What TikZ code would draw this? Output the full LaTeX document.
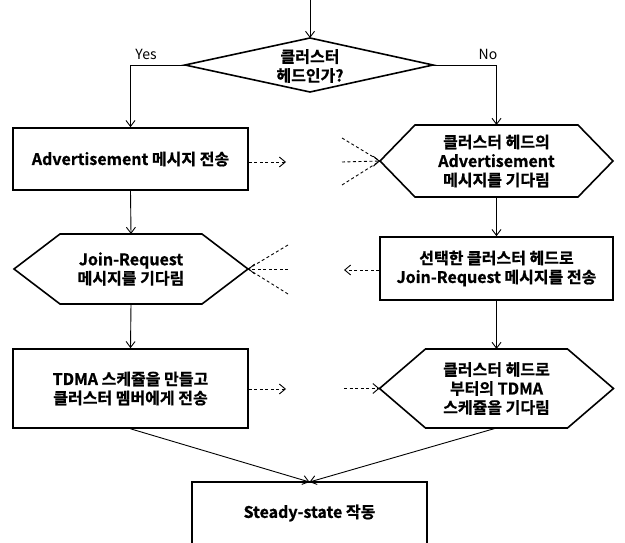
\documentclass[tikz,border=0pt]{standalone}
\usepackage{fontspec}
\setmainfont{Noto Sans CJK KR}[BoldFont={Noto Sans CJK KR Bold},BoldFeatures={FakeBold=0.8}]
\usetikzlibrary{arrows.meta}
\tikzset{
  box/.style={draw=black, line width=1.6pt},
  txt/.style={font=\bfseries\fontsize{16}{19}\selectfont, align=center, inner sep=0pt},
  rectbox/.style={box, txt, minimum width=235pt, minimum height=#1},
  conn/.style={draw=black, line width=0.9pt},
  arr/.style={conn, -{Straight Barb[length=6pt,width=9pt,line width=0.9pt]}},
  darr/.style={conn, dash pattern=on 3pt off 2.5pt, -{Straight Barb[length=6pt,width=10pt,line width=0.9pt]}},
  dline/.style={conn, dash pattern=on 3pt off 2.5pt},
  lbl/.style={font=\fontsize{14}{16}\selectfont, inner sep=0pt}
}
\newcommand\hexa[7]{% name cx cy hw hh off text
  \node[txt] (#1) at (#2,#3) {#7};
  \draw[box] (#2-#4,#3) -- (#2-#4+#6,#3-#5) -- (#2+#4-#6,#3-#5) -- (#2+#4,#3)
     -- (#2+#4-#6,#3+#5) -- (#2-#4+#6,#3+#5) -- cycle;
  \coordinate (#1-w) at (#2-#4,#3);
  \coordinate (#1-e) at (#2+#4,#3);
  \coordinate (#1-n) at (#2,#3-#5);
  \coordinate (#1-s) at (#2,#3+#5);
}
\begin{document}
\begin{tikzpicture}[x=1pt,y=-1pt]
\useasboundingbox[fill=white] (0,0) rectangle (625,543);

% decision diamond
\node[txt] (dec) at (310,66) {클러스터\\헤드인가?};
\coordinate (dec-n) at (310,38);
\coordinate (dec-w) at (185,65);
\coordinate (dec-e) at (433,65);
\coordinate (dec-s) at (310,92);
\draw[box] (dec-n) -- (dec-e) -- (dec-s) -- (dec-w) -- cycle;
\coordinate (start) at (310,0);
\draw[arr] (start) -- (dec-n);

\node[lbl] (yes) at (146,54) {Yes};
\node[lbl] (no) at (488,54) {No};

% left column
\node[rectbox=62pt] (adv) at (130.5,159) {Advertisement 메시지 전송};
\hexa{join}{131}{269}{117}{35}{46}{Join-Request\\메시지를 기다림}
\node[rectbox=79pt] (tdma) at (130.5,388.5) {TDMA 스케쥴을 만들고\\클러스터 멤버에게 전송};

% right column
\hexa{wadv}{496.5}{161}{116.5}{36}{35}{클러스터 헤드의\\Advertisement\\메시지를 기다림}
\node[rectbox=63pt, minimum width=233pt] (sel) at (496.5,268.5) {선택한 클러스터 헤드로\\Join-Request 메시지를 전송};
\hexa{wtdma}{496.5}{388.5}{117}{39.5}{46}{클러스터 헤드로\\부터의 TDMA\\스케쥴을 기다림};

% bottom box
\node[txt] (steady) at (309.5,513) {Steady-state 작동};
\coordinate (steady-n) at (309.5,482);
\draw[box] (192,560) -- (192,482) -- (427,482) -- (427,560);

% flow connectors
\draw[arr] (dec-w) -| (adv.north);
\draw[arr] (dec-e) -| (wadv-n);
\draw[arr] (adv.south) -- (join-n);
\draw[arr] (join-s) -- (tdma.north);
\draw[arr] (wadv-s) -- (sel.north);
\draw[arr] (sel.south) -- (wtdma-n);
\draw[arr] (tdma.south) -- (steady-n);
\draw[arr] (wtdma-s) -- (steady-n);

% dashed message arrows, row 1
\coordinate (r1a) at (286,162);
\draw[darr] (adv.east |- r1a) -- (r1a);
\coordinate (r1b) at (342,138);
\coordinate (r1c) at (342,162);
\coordinate (r1d) at (342,185);
\draw[dline] (r1b) -- (wadv-w);
\draw[dline] (r1d) -- (wadv-w);
\draw[darr] (r1c) -- (wadv-w);

% row 2
\coordinate (r2a) at (344,270);
\draw[darr] (sel.west |- r2a) -- (r2a);
\coordinate (r2b) at (288,245);
\coordinate (r2c) at (288,269);
\coordinate (r2d) at (288,294);
\draw[dline] (r2b) -- (join-e);
\draw[dline] (r2d) -- (join-e);
\draw[darr] (r2c) -- (join-e);

% row 3
\coordinate (r3a) at (286,389);
\draw[darr] (tdma.east |- r3a) -- (r3a);
\coordinate (r3b) at (344,388.5);
\draw[darr] (r3b) -- (wtdma-w);
\end{tikzpicture}
\end{document}
